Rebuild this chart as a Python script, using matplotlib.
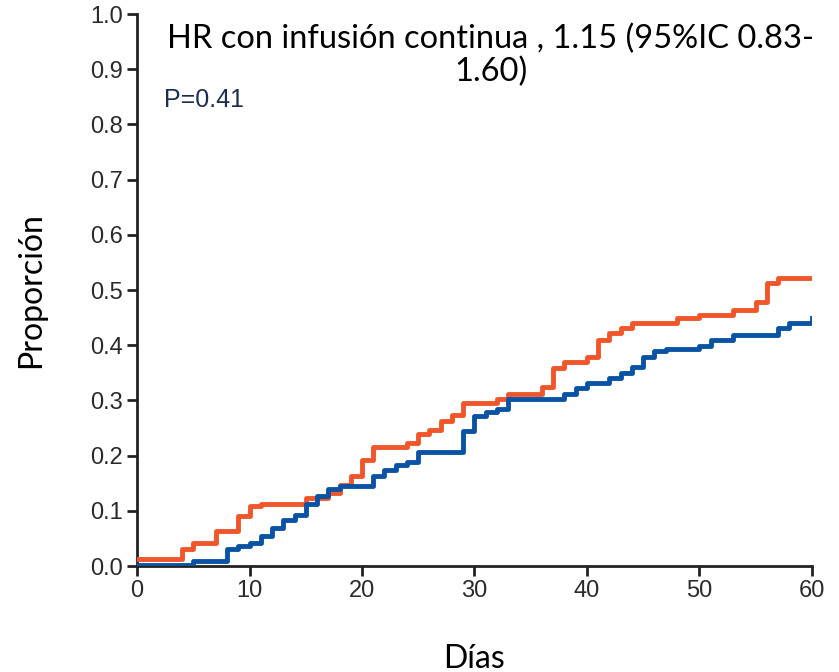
import matplotlib.pyplot as plt
import numpy as np

# Datos (curvas escalonadas acumuladas)
dias_naranja = [0, 4, 5, 7, 9, 10, 11, 15, 17, 18, 19, 20, 21, 24, 25, 26, 27, 28, 29,
                32, 33, 36, 37, 38, 40, 41, 42, 43, 44, 48, 50, 53, 55, 56, 57, 60]
prop_naranja = [0.012, 0.031, 0.041, 0.063, 0.091, 0.108, 0.112, 0.123, 0.133, 0.147, 0.163,
                0.192, 0.216, 0.222, 0.240, 0.247, 0.262, 0.274, 0.296, 0.302, 0.311, 0.325,
                0.358, 0.369, 0.378, 0.410, 0.422, 0.431, 0.441, 0.450, 0.455, 0.464, 0.479,
                0.512, 0.521, 0.521]

dias_azul = [0, 5, 8, 9, 10, 11, 12, 13, 14, 15, 16, 17, 18, 21, 22, 23, 24, 25, 29, 30,
             31, 32, 33, 38, 39, 40, 42, 43, 44, 45, 46, 47, 50, 51, 53, 57, 58, 60]
prop_azul = [0.002, 0.010, 0.031, 0.036, 0.041, 0.054, 0.069, 0.083, 0.092, 0.112, 0.126,
             0.140, 0.145, 0.163, 0.174, 0.183, 0.188, 0.206, 0.245, 0.272, 0.279, 0.284,
             0.302, 0.312, 0.322, 0.331, 0.341, 0.350, 0.360, 0.378, 0.389, 0.393, 0.398,
             0.409, 0.419, 0.431, 0.441, 0.450]

x_ticks = [0, 10, 20, 30, 40, 50, 60]
y_ticks = [0.0, 0.1, 0.2, 0.3, 0.4, 0.5, 0.6, 0.7, 0.8, 0.9, 1.0]

fig = plt.figure(figsize=(8.39, 6.72), dpi=100)
ax = fig.add_axes([0.1633, 0.1577, 0.8045, 0.8214])

ax.step(dias_naranja, prop_naranja, where="post", color="#F0562A", linewidth=3.5, zorder=3)
ax.step(dias_azul, prop_azul, where="post", color="#0A52A4", linewidth=3.5, zorder=4)

ax.set_xlim(0, 60)
ax.set_ylim(0, 1.0)
ax.set_xticks(x_ticks)
ax.set_yticks(y_ticks)
ax.set_xticklabels([str(t) for t in x_ticks])
ax.set_yticklabels([f"{t:.1f}" for t in y_ticks])

for s in ["top", "right"]:
    ax.spines[s].set_visible(False)
for s in ["left", "bottom"]:
    ax.spines[s].set_linewidth(2.0)
    ax.spines[s].set_color("#222222")
ax.tick_params(axis="both", direction="out", length=7, width=2.0, color="#222222",
               labelsize=17, labelcolor="#2a2a2a", pad=3)
for lab in ax.get_xticklabels() + ax.get_yticklabels():
    lab.set_family("Liberation Sans")

ax.set_ylabel("Proporción", fontsize=23, family="Lato", labelpad=32)
ax.set_xlabel("Días", fontsize=23, family="Lato", labelpad=30)

fig.text(0.585, 0.918, "HR con infusión continua , 1.15 (95%IC 0.83-\n1.60)",
         ha="center", va="center", fontsize=23.5, family="Lato", linespacing=1.1)
fig.text(0.195, 0.851, "P=0.41", ha="left", va="center", fontsize=18,
         family="Liberation Sans", color="#1c2d4e")

fig.savefig("out.png", dpi=100)
